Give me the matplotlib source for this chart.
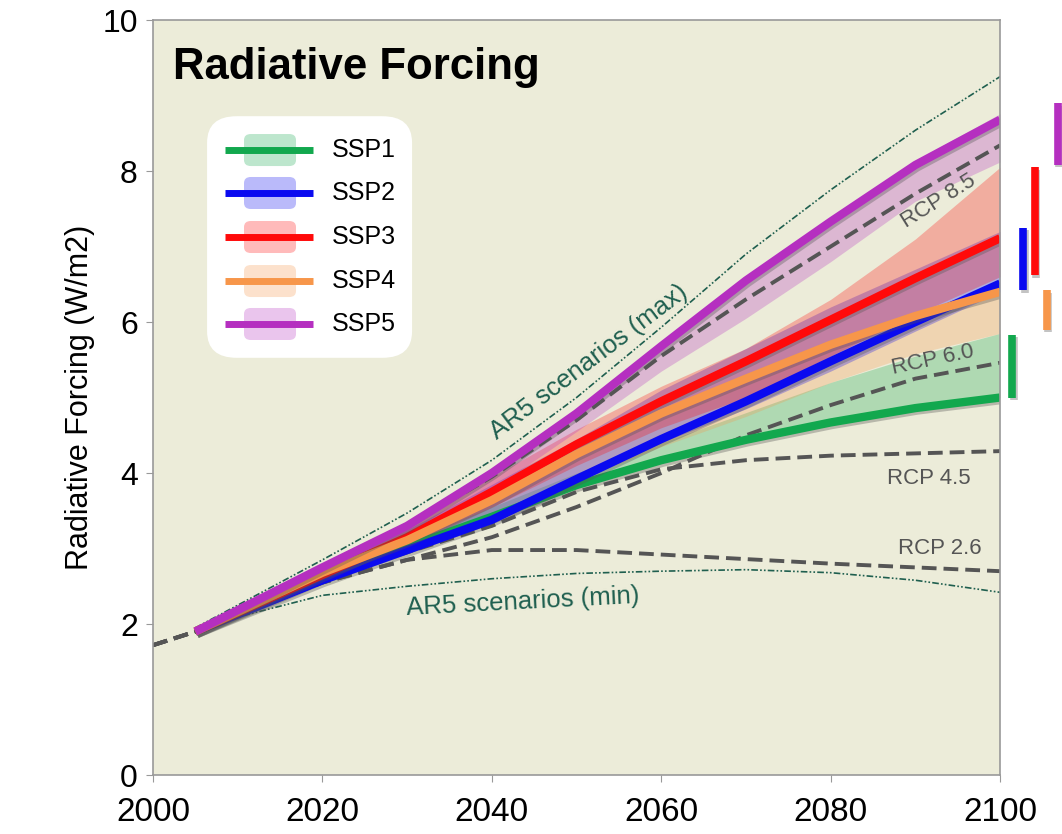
import matplotlib
matplotlib.use("Agg")
import matplotlib.pyplot as plt
import matplotlib.patheffects as pe
from matplotlib.patches import FancyBboxPatch
from matplotlib.lines import Line2D

plt.rcParams['font.family'] = ['Liberation Sans', 'DejaVu Sans']

# ---- data ----
ssp_years = [2005, 2020, 2030, 2040, 2050, 2060, 2070, 2080, 2090, 2100]
ssp1 = [1.9, 2.62, 3.02, 3.42, 3.84, 4.17, 4.44, 4.67, 4.86, 5.0]
ssp2 = [1.9, 2.58, 2.98, 3.38, 3.92, 4.45, 4.95, 5.48, 6.0, 6.51]
ssp3 = [1.9, 2.65, 3.15, 3.75, 4.38, 4.95, 5.48, 6.03, 6.58, 7.11]
ssp4 = [1.9, 2.68, 3.11, 3.64, 4.25, 4.79, 5.25, 5.7, 6.08, 6.4]
ssp5 = [1.9, 2.75, 3.3, 4.0, 4.79, 5.68, 6.55, 7.33, 8.08, 8.68]

# uncertainty bands (low, high)
ssp1_lo = ssp1
ssp1_hi = [1.9, 2.65, 3.1, 3.55, 4.0, 4.4, 4.8, 5.2, 5.55, 5.85]
ssp2_lo = [1.9, 2.55, 2.95, 3.35, 3.88, 4.4, 4.85, 5.35, 5.88, 6.4]
ssp2_hi = [1.9, 2.75, 3.25, 3.85, 4.45, 5.1, 5.65, 6.2, 6.7, 7.2]
ssp3_lo = [1.9, 2.6, 3.05, 3.55, 4.1, 4.6, 5.0, 5.55, 6.1, 6.6]
ssp3_hi = [1.9, 2.75, 3.3, 3.95, 4.58, 5.15, 5.65, 6.3, 7.1, 8.05]
ssp4_lo = [1.9, 2.6, 3.0, 3.4, 3.9, 4.35, 4.75, 5.2, 5.58, 5.85]
ssp4_hi = ssp4
ssp5_lo = [1.9, 2.7, 3.2, 3.78, 4.55, 5.35, 6.05, 6.8, 7.6, 8.12]
ssp5_hi = [1.9, 2.8, 3.36, 4.06, 4.85, 5.74, 6.61, 7.39, 8.14, 8.76]

# 2100 ranges shown right of the plot
range_x = [2101.4, 2102.7, 2104.1, 2105.5, 2106.8]
range_lo = [5.0, 6.42, 6.62, 5.9, 8.08]
range_hi = [5.83, 7.25, 8.05, 6.42, 8.9]

rcp_years = [2000, 2005, 2020, 2030, 2040, 2050, 2060, 2070, 2080, 2090, 2100]
rcp26 = [1.72, 1.9, 2.55, 2.85, 2.98, 2.98, 2.92, 2.86, 2.8, 2.75, 2.70]
rcp45 = [1.72, 1.9, 2.6, 2.95, 3.3, 3.75, 4.05, 4.17, 4.23, 4.26, 4.29]
rcp60 = [1.72, 1.9, 2.55, 2.85, 3.15, 3.55, 4.0, 4.5, 4.9, 5.25, 5.46]
rcp85 = [1.72, 1.9, 2.7, 3.3, 3.95, 4.7, 5.55, 6.3, 7.0, 7.7, 8.34]

ar5_years = [2005, 2020, 2030, 2040, 2050, 2060, 2070, 2080, 2090, 2100]
ar5_max = [1.95, 2.85, 3.47, 4.17, 5.0, 5.93, 6.9, 7.75, 8.54, 9.25]
ar5_min = [1.95, 2.38, 2.5, 2.6, 2.67, 2.7, 2.72, 2.68, 2.58, 2.42]

names = ["SSP1", "SSP2", "SSP3", "SSP4", "SSP5"]
colors = ["#12A84E", "#0A0AF0", "#FF0A0A", "#F7964A", "#B52FC0"]

fig = plt.figure(figsize=(10.62, 8.34), dpi=100)
ax = fig.add_axes([0.1441, 0.0707, 0.7976, 0.9053])
ax.set_facecolor("#ECECD9")

# bands
bands = [(ssp1_lo, ssp1_hi), (ssp4_lo, ssp4_hi), (ssp2_lo, ssp2_hi),
         (ssp3_lo, ssp3_hi), (ssp5_lo, ssp5_hi)]
band_cols = [colors[0], colors[3], colors[1], colors[2], colors[4]]
for (lo, hi), c in zip(bands, band_cols):
    ax.fill_between(ssp_years, lo, hi, color=c, alpha=0.28, lw=0)

# RCP dashed
for vals in [rcp26, rcp45, rcp60, rcp85]:
    ax.plot(rcp_years, vals, color="#555555", lw=2.8, dashes=(3.8, 1.8))

# AR5 envelope
ar5_col = "#1F5F4F"
for vals in [ar5_max, ar5_min]:
    ax.plot(ar5_years, vals, color=ar5_col, lw=1.2,
            linestyle=(0, (4, 1.3, 1, 1.3, 1, 1.3)))

shadow = [pe.SimpleLineShadow(offset=(1.2, -1.8), shadow_color="#555555", alpha=0.35),
          pe.Normal()]
series = [ssp1, ssp2, ssp3, ssp4, ssp5]
for vals, c in zip(series, colors):
    ax.plot(ssp_years, vals, color=c, lw=6, solid_capstyle="butt",
            solid_joinstyle="round", path_effects=shadow)

# range bars right of the plot
for x, lo, hi, c in zip(range_x, range_lo, range_hi, colors):
    ax.plot([x, x], [lo, hi], color=c, lw=5.5, solid_capstyle="butt",
            clip_on=False, path_effects=shadow)

# labels on the curves
rcp_kw = dict(color="#555555", fontsize=16, ha="center", va="center",
              rotation_mode="anchor")
ax.text(2092.7, 7.6, "RCP 8.5", rotation=32, **rcp_kw)
ax.text(2092.0, 5.5, "RCP 6.0", rotation=12, **rcp_kw)
ax.text(2091.6, 3.93, "RCP 4.5", **rcp_kw)
ax.text(2092.9, 3.0, "RCP 2.6", **rcp_kw)
ax.text(2051.4, 5.47, "AR5 scenarios (max)", rotation=37, color=ar5_col,
        fontsize=18.5, ha="center", va="center", rotation_mode="anchor")
ax.text(2043.7, 2.29, "AR5 scenarios (min)", rotation=3, color=ar5_col,
        fontsize=18.5, ha="center", va="center", rotation_mode="anchor")

ax.text(0.0236, 0.922, "Radiative Forcing", transform=ax.transAxes,
        fontsize=31.5, fontweight="bold", ha="left", va="baseline")

# hand-drawn legend box
ax.add_patch(FancyBboxPatch((0.0938, 0.5826), 0.182, 0.26,
                            boxstyle="round,pad=0.03,rounding_size=0.035",
                            transform=ax.transAxes, fc="white", ec="none", zorder=5))
row_y = [0.8278, 0.7709, 0.7126, 0.6543, 0.5974]
for yy, c, name in zip(row_y, colors, names):
    ax.add_patch(FancyBboxPatch((0.1074, yy - 0.0212), 0.0614, 0.0424,
                                boxstyle="round,pad=0,rounding_size=0.008",
                                transform=ax.transAxes, fc=c, alpha=0.28,
                                ec="none", zorder=6))
    ax.add_line(Line2D([0.085, 0.189], [yy, yy], transform=ax.transAxes,
                       color=c, lw=5, solid_capstyle="butt", zorder=7))
    ax.text(0.2113, yy, name, transform=ax.transAxes, fontsize=18,
            va="center", ha="left", zorder=7)

ax.set_xlim(2000, 2100)
ax.set_ylim(0, 10)
ax.set_xticks([2000, 2020, 2040, 2060, 2080, 2100])
ax.set_yticks([0, 2, 4, 6, 8, 10])
ax.tick_params(axis="x", labelsize=24, length=5, color="#999999", pad=11)
ax.tick_params(axis="y", labelsize=23, length=5, color="#999999", pad=6)
ax.set_ylabel("Radiative Forcing (W/m2)", fontsize=22, labelpad=5)
for s in ax.spines.values():
    s.set_color("#999999")
    s.set_linewidth(1.2)

fig.savefig("out.png", dpi=100, facecolor="white")
